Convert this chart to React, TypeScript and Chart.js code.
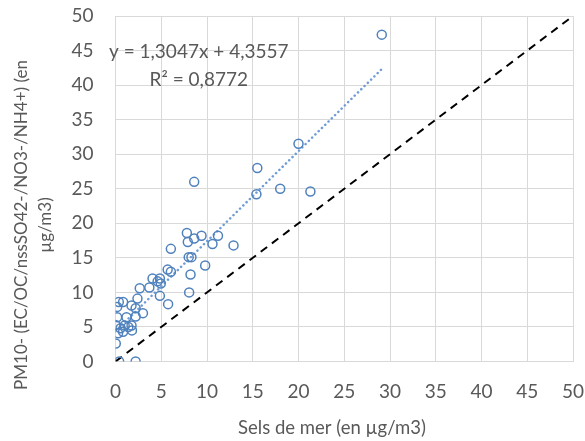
import React, { useEffect, useRef } from "react";
import { Chart, registerables } from "chart.js";

Chart.register(...registerables);

// Data
const seaSalt = [29.1, 20.0, 15.5, 8.6, 15.4, 18.0, 21.3, 7.8, 9.4, 8.6, 7.9, 11.2, 10.6, 12.9, 6.05, 8.0, 8.3, 9.8, 5.7, 6.05, 8.2, 4.05, 4.85, 4.6, 4.95, 3.7, 2.65, 8.05, 4.85, 2.4, 0.36, 0.83, 1.75, 0.18, 2.2, 5.75, 3.0, 2.2, 0.18, 1.2, 0.0, 1.0, 1.75, 0.55, 1.4, 0.28, 0.83, 1.8, 0.03, 0.4, 2.2];
const pm10Rest = [47.3, 31.5, 28.0, 26.0, 24.2, 25.0, 24.6, 18.6, 18.2, 17.8, 17.3, 18.2, 17.0, 16.8, 16.3, 15.1, 15.1, 13.9, 13.3, 13.0, 12.6, 12.0, 12.0, 11.6, 11.3, 10.7, 10.6, 10.0, 9.5, 9.1, 8.6, 8.6, 8.1, 7.9, 7.7, 8.3, 7.0, 6.5, 6.4, 6.4, 5.3, 5.2, 5.2, 4.8, 5.0, 4.1, 4.3, 4.5, 2.6, 0.0, 0.0];
const slope = 1.3047;
const intercept = 4.3557;
const trendRange = [0, 29.1];
const identityRange = [0, 50];
const equationText = "y = 1,3047x + 4,3557";
const r2Text = "R² = 0,8772";
const xTitle = "Sels de mer (en µg/m3)";
const yTitle = ["PM10- (EC/OC/nssSO42-/NO3-/NH4+) (en", "µg/m3)"];

const FONT = "Lato, 'Open Sans', sans-serif";
const GREY = "#595959";

const textPlugin = {
  id: "texts",
  afterDraw(chart: any) {
    const ctx = chart.ctx;
    const xs = chart.scales.x;
    const ys = chart.scales.y;
    ctx.save();
    ctx.fillStyle = GREY;
    ctx.textAlign = "center";
    ctx.textBaseline = "middle";
    ctx.font = `19px ${FONT}`;
    ctx.fillText(equationText, xs.getPixelForValue(9.1), ys.getPixelForValue(44.8));
    ctx.fillText(r2Text, xs.getPixelForValue(9.1), ys.getPixelForValue(40.7));
    ctx.font = `18.5px ${FONT}`;
    ctx.fillText(xTitle, 332, 428);
    ctx.font = `17px ${FONT}`;
    ctx.translate(34, 225);
    ctx.rotate(-Math.PI / 2);
    ctx.fillText(yTitle[0], 0, -12);
    ctx.fillText(yTitle[1], 0, 12);
    ctx.restore();
  },
};

export default function App() {
  const ref = useRef<HTMLCanvasElement>(null);
  useEffect(() => {
    document.body.style.margin = "0";
    const points = seaSalt.map((x, i) => ({ x, y: pm10Rest[i] }));
    const trend = trendRange.map((x) => ({ x, y: slope * x + intercept }));
    const identity = identityRange.map((x) => ({ x, y: x }));
    const chart = new Chart(ref.current!, {
      type: "scatter",
      data: {
        datasets: [
          {
            data: identity,
            showLine: true,
            borderColor: "#000000",
            borderWidth: 2,
            borderDash: [8, 6],
            pointRadius: 0,
            order: 3,
          } as any,
          {
            data: trend,
            showLine: true,
            borderColor: "#6f9bd6",
            borderWidth: 2.5,
            borderDash: [0.1, 4.5],
            borderCapStyle: "round",
            pointRadius: 0,
            order: 2,
          } as any,
          {
            data: points,
            pointStyle: "circle",
            pointRadius: 4.5,
            pointBorderWidth: 1.5,
            pointBorderColor: "#4f81bd",
            pointBackgroundColor: "rgba(0,0,0,0)",
            order: 1,
          } as any,
        ],
      },
      options: {
        animation: false,
        responsive: false,
        layout: { padding: { left: 0, top: 16, right: 12, bottom: 0 } },
        plugins: { legend: { display: false }, tooltip: { enabled: false } },
        scales: {
          x: {
            type: "linear",
            min: 0,
            max: 50,
            ticks: { stepSize: 5, color: GREY, font: { family: FONT, size: 19 }, padding: 19, maxRotation: 0 },
            grid: { color: "#d9d9d9", lineWidth: 1, drawTicks: false },
            border: { color: "#d9d9d9" },
            afterFit: (s: any) => { s.height = 79.5; s.paddingLeft = 0; s.paddingRight = 0; },
          },
          y: {
            type: "linear",
            min: 0,
            max: 50,
            ticks: { stepSize: 5, color: GREY, font: { family: FONT, size: 19 }, padding: 22 },
            grid: { color: "#d9d9d9", lineWidth: 1, drawTicks: false },
            border: { color: "#d9d9d9" },
            afterFit: (s: any) => { s.width = 115.5; s.paddingTop = 0; s.paddingBottom = 0; },
          },
        },
      },
      plugins: [textPlugin],
    });
    return () => chart.destroy();
  }, []);
  return (
    <div style={{ width: 585, height: 441 }}>
      <canvas ref={ref} width={585} height={441} style={{ display: "block" }} />
    </div>
  );
}
